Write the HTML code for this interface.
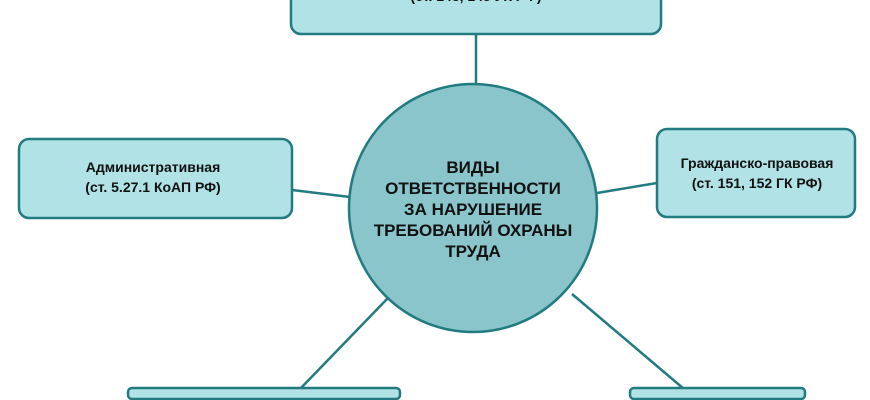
<!DOCTYPE html>
<html><head><meta charset="utf-8"><style>
html,body{margin:0;width:870px;height:400px;overflow:hidden;background:#fff;}
svg{display:block;overflow:hidden}
text{font-family:"Liberation Sans",Arial,sans-serif;font-weight:bold;fill:#111;text-anchor:middle}
</style></head><body>
<svg width="870" height="400" viewBox="0 0 870 400">
<g stroke="#217b80" stroke-width="2.5" fill="none">
<line x1="476" y1="34" x2="476" y2="86"/>
<line x1="292" y1="190" x2="350" y2="197"/>
<line x1="597" y1="193" x2="657" y2="183"/>
<line x1="300" y1="389" x2="388" y2="298"/>
<line x1="684" y1="389" x2="572" y2="294"/>
</g>
<g fill="#b0e2e6" stroke="#217b80" stroke-width="2.5">
<rect x="291" y="-20" width="370" height="54" rx="10"/>
<rect x="19" y="139" width="273" height="79" rx="10"/>
<rect x="657" y="129" width="198" height="88" rx="10"/>
<rect x="128" y="388" width="272" height="11" rx="4"/>
<rect x="630" y="388" width="175" height="11" rx="4"/>
</g>
<circle cx="473" cy="208" r="124" fill="#8ac5cb" stroke="#217b80" stroke-width="2.5"/>
<text x="476" y="1" font-size="14">(ст. 143, 145 УК РФ)</text>
<text x="153" y="172" font-size="14">Административная</text>
<text x="153" y="192" font-size="14">(ст. 5.27.1 КоАП РФ)</text>
<text x="757" y="168" font-size="14">Гражданско-правовая</text>
<text x="757" y="188" font-size="14">(ст. 151, 152 ГК РФ)</text>
<g font-size="17">
<text x="473" y="173">ВИДЫ</text>
<text x="473" y="194">ОТВЕТСТВЕННОСТИ</text>
<text x="473" y="215">ЗА НАРУШЕНИЕ</text>
<text x="473" y="236">ТРЕБОВАНИЙ ОХРАНЫ</text>
<text x="473" y="257">ТРУДА</text>
</g>
</svg>
</body></html>
